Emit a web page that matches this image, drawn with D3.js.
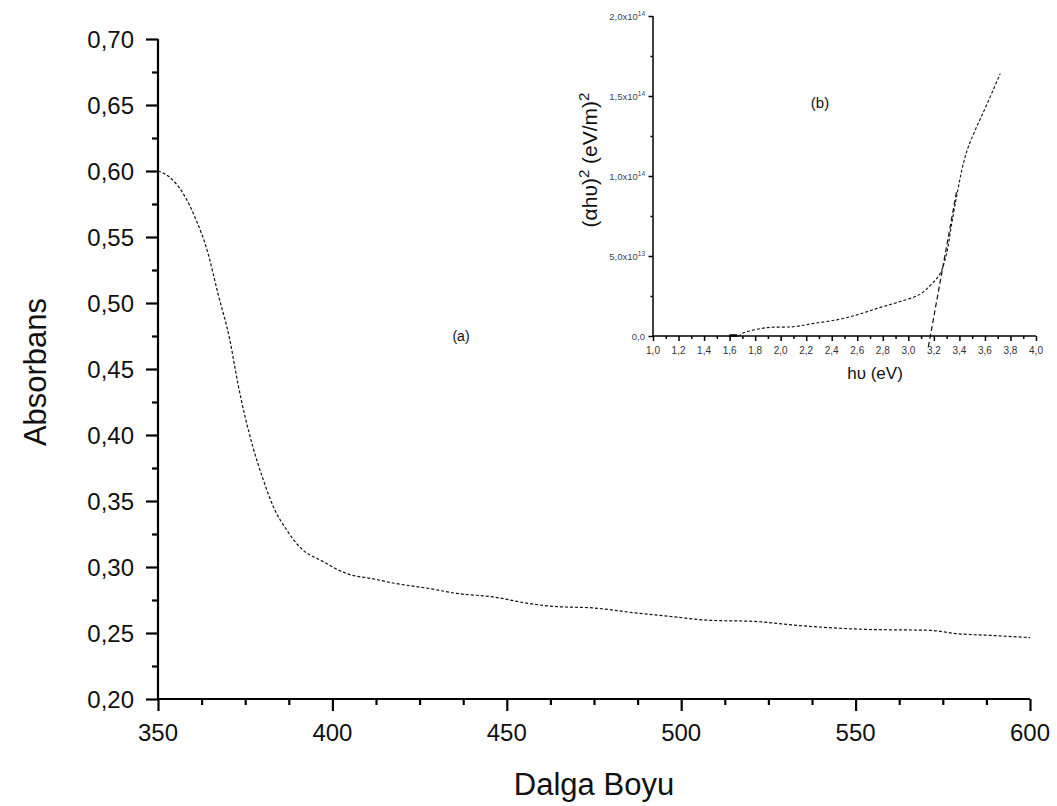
<!DOCTYPE html>
<html><head><meta charset="utf-8">
<script src="https://cdn.jsdelivr.net/npm/d3@7"></script>
<style>body{margin:0;background:#fff}svg{display:block}text{font-family:"Liberation Sans",Arial,sans-serif;fill:#111}</style>
</head><body><svg id="c" width="1057" height="806"></svg>
<script>
// Main chart (a)
const wavelength = [350,353,357.2,360.6,364.3,367.2,370.6,372.9,377.2,380.2,383.1,386.9,390.7,397.4,404.1,411.7,418.4,428,435.6,446.1,456.7,464.3,474.8,486,497,508.3,520.7,533.1,552.2,571.3,579,590,600];
const absorbans  = [0.600,0.596,0.583,0.565,0.538,0.507,0.472,0.439,0.391,0.366,0.3455,0.328,0.315,0.304,0.295,0.291,0.2874,0.2836,0.280,0.2773,0.2722,0.270,0.269,0.2655,0.2625,0.2596,0.2588,0.2558,0.2528,0.252,0.2495,0.248,0.2465];
const mainYTicks = [0.20,0.25,0.30,0.35,0.40,0.45,0.50,0.55,0.60,0.65,0.70];
const mainXTicks = [350,400,450,500,550,600];
// Inset (b)
const energy = [1.59,1.67,1.71,1.89,2.10,2.26,2.46,2.62,2.78,2.93,3.09,3.18,3.25,3.30,3.34,3.38,3.42,3.46,3.52,3.60,3.72];
const alphaHv2 = [0,0,0.02e14,0.052e14,0.058e14,0.079e14,0.104e14,0.1375e14,0.179e14,0.214e14,0.26e14,0.323e14,0.392e14,0.517e14,0.704e14,0.88e14,1.04e14,1.16e14,1.28e14,1.42e14,1.64e14];
const tangentE = [3.157,3.38];
const tangentY = [-0.067e14,0.9125e14];
const insetXTicks = [1.0,1.2,1.4,1.6,1.8,2.0,2.2,2.4,2.6,2.8,3.0,3.2,3.4,3.6,3.8,4.0];
const insetYTicks = [0,0.5e14,1.0e14,1.5e14,2.0e14];
const insetYLabels = [["0,0",""],["5,0x10","13"],["1,0x10","14"],["1,5x10","14"],["2,0x10","14"]];

const svg = d3.select("#c");
const comma = v => v.toString().replace(".", ",");

// ----- main
const x = d3.scaleLinear().domain([350,600]).range([158,1030]);
const y = d3.scaleLinear().domain([0.2,0.7]).range([699,39]);

const gx = svg.append("g").attr("transform","translate(0,699)");
gx.call(d3.axisBottom(x).tickValues(d3.range(350,601,12.5)).tickSize(6).tickFormat(""));
gx.call(g=>g.selectAll(".tick line").filter(d=>d%50===0).attr("y2",12));
gx.selectAll("path,line").attr("stroke","#000").attr("stroke-width",2.2);
gx.select(".domain").attr("d","M158,0H1030");
gx.selectAll(".tick text").remove();
mainXTicks.forEach(v=>{
  svg.append("text").attr("x",x(v)).attr("y",741).attr("text-anchor","middle").attr("font-size",24).text(v);
});

const gy = svg.append("g").attr("transform","translate(158,0)");
gy.call(d3.axisLeft(y).tickValues(d3.range(0.2,0.7001,0.025)).tickSize(6).tickFormat(""));
gy.call(g=>g.selectAll(".tick line").filter(d=>Math.abs(Math.round(d*20)-d*20)<1e-6).attr("x2",-12));
gy.selectAll("path,line").attr("stroke","#000").attr("stroke-width",2.2);
gy.select(".domain").attr("d","M0,699V39");
mainYTicks.forEach(v=>{
  svg.append("text").attr("x",134).attr("y",y(v)+8.5).attr("text-anchor","end").attr("font-size",24).text(comma(v.toFixed(2)));
});

svg.append("text").attr("transform","translate(46,372) rotate(-90)").attr("text-anchor","middle").attr("font-size",31).text("Absorbans");
svg.append("text").attr("x",594).attr("y",795).attr("text-anchor","middle").attr("font-size",31).text("Dalga Boyu");
svg.append("text").attr("x",461).attr("y",341).attr("text-anchor","middle").attr("font-size",14).text("(a)");

const line = d3.line().x(d=>x(d[0])).y(d=>y(d[1])).curve(d3.curveMonotoneX);
svg.append("path").datum(wavelength.map((w,i)=>[w,absorbans[i]]))
  .attr("d",line).attr("fill","none").attr("stroke","#111").attr("stroke-width",1.2).attr("stroke-dasharray","3,2");

// ----- inset
const ix = d3.scaleLinear().domain([1,4]).range([653,1036]);
const iy = d3.scaleLinear().domain([0,2e14]).range([336,16]);

const igx = svg.append("g").attr("transform","translate(0,336)");
igx.call(d3.axisBottom(ix).tickValues(d3.range(1,4.001,0.1)).tickSize(3).tickFormat(""));
igx.call(g=>g.selectAll(".tick line").filter((d,i)=>i%2===0).attr("y2",5));
igx.selectAll("path,line").attr("stroke","#000").attr("stroke-width",1.5);
igx.select(".domain").attr("d","M653,0H1036");
insetXTicks.forEach(v=>{
  svg.append("text").attr("x",ix(v)).attr("y",354).attr("text-anchor","middle").attr("font-size",10).style("fill","#333").text(comma(v.toFixed(1)));
});

const igy = svg.append("g").attr("transform","translate(653,0)");
igy.call(d3.axisLeft(iy).tickValues(d3.range(0,2.0001e14,0.25e14)).tickSize(2.5).tickFormat(""));
igy.call(g=>g.selectAll(".tick line").filter((d,i)=>i%2===0).attr("x2",-4.5));
igy.selectAll("path,line").attr("stroke","#000").attr("stroke-width",1.5);
igy.select(".domain").attr("d","M0,336V16");
insetYTicks.forEach((v,i)=>{
  const t = svg.append("text").attr("x",645).attr("y",iy(v)+3.5).attr("text-anchor","end").attr("font-size",9.5).style("fill","#444");
  t.append("tspan").text(insetYLabels[i][0]);
  if(insetYLabels[i][1]) t.append("tspan").attr("dy",-3.5).attr("font-size",6.5).text(insetYLabels[i][1]);
});

const ilabel = svg.append("text").attr("transform","translate(597,160) rotate(-90)").attr("text-anchor","middle").attr("font-size",21);
ilabel.append("tspan").text("(αhυ)");
ilabel.append("tspan").attr("dy",-8).attr("font-size",15).text("2");
ilabel.append("tspan").attr("dy",8).text(" (eV/m)");
ilabel.append("tspan").attr("dy",-8).attr("font-size",15).text("2");

svg.append("text").attr("x",875).attr("y",379).attr("text-anchor","middle").attr("font-size",17).text("hυ (eV)");
svg.append("text").attr("x",820).attr("y",108).attr("text-anchor","middle").attr("font-size",15).text("(b)");

const iline = d3.line().x(d=>ix(d[0])).y(d=>iy(d[1])).curve(d3.curveCatmullRom.alpha(0.5));
svg.append("path").datum(energy.map((e,i)=>[e,alphaHv2[i]]))
  .attr("d",iline).attr("fill","none").attr("stroke","#111").attr("stroke-width",1.1).attr("stroke-dasharray","3,2");
svg.append("path").datum(tangentE.map((e,i)=>[e,tangentY[i]]))
  .attr("d",d3.line().x(d=>ix(d[0])).y(d=>iy(d[1]))).attr("fill","none").attr("stroke","#111").attr("stroke-width",1.2).attr("stroke-dasharray","5,3");
svg.append("line").attr("x1",ix(1.6)).attr("x2",ix(1.66)).attr("y1",iy(0)-0.5).attr("y2",iy(0)-0.5).attr("stroke","#000").attr("stroke-width",2.5);
</script></body></html>
